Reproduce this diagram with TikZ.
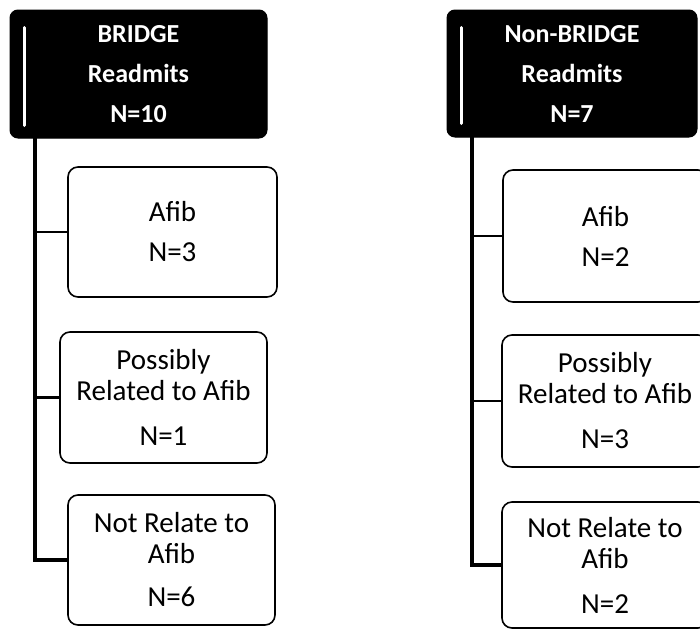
\documentclass[tikz,border=0pt]{standalone}
\usepackage{fontspec}
\setmainfont{Carlito}

\begin{document}
\begin{tikzpicture}[x=1pt,y=-1pt,
		header/.style={draw=black,fill=black,text=white,rounded corners=8pt,line width=1pt,
			inner sep=0pt,align=center,font=\bfseries\fontsize{26}{40}\selectfont},
		item/.style={draw=black,fill=white,rounded corners=10pt,line width=1.6pt,
			inner sep=0pt,align=center,font=\fontsize{29}{31}\selectfont},
		trunk/.style={line width=3.5pt},
		branch/.style={line width=2.2pt}]
		\clip (0,0) rectangle (700,629);
		% BRIDGE side
		\node [header,minimum width=257pt,minimum height=128pt] (hdrL) at (138.5,74) {BRIDGE\\Readmits\\N=10};
		\node [item,minimum width=209pt,minimum height=130pt] (afibL) at (172.5,232) {Afib\\[9pt]N=3};
		\node [item,minimum width=207pt,minimum height=131pt] (possL) at (163.5,397.5) {Possibly\\Related to Afib\\[14pt]N=1};
		\node [item,minimum width=207pt,minimum height=130pt] (notL) at (171.5,560) {Not Relate to\\Afib\\[12pt]N=6};
		\coordinate (topL) at (35,138);
		\draw[white,line width=3pt,line cap=round] ([xshift=15pt,yshift=-18pt]hdrL.north west) -- ([xshift=15pt,yshift=13pt]hdrL.south west);
		\draw[trunk] (topL) |- (notL.west);
		\draw[branch] (topL |- afibL.west) -- (afibL.west);
		\draw[branch] (topL |- possL.west) -- (possL.west);
		% Non-BRIDGE side
		\node [header,minimum width=250pt,minimum height=127pt] (hdrR) at (572,73.5) {Non-BRIDGE\\Readmits\\N=7};
		\node [item,minimum width=205pt,minimum height=132pt] (afibR) at (605.5,236) {Afib\\[9pt]N=2};
		\node [item,minimum width=206pt,minimum height=132pt] (possR) at (605,401) {Possibly\\Related to Afib\\[14pt]N=3};
		\node [item,minimum width=206pt,minimum height=126pt] (notR) at (605,565) {Not Relate to\\Afib\\[14pt]N=2};
		\coordinate (topR) at (472,137);
		\draw[white,line width=3pt,line cap=round] ([xshift=15pt,yshift=-18pt]hdrR.north west) -- ([xshift=15pt,yshift=14pt]hdrR.south west);
		\draw[trunk] (topR) |- (notR.west);
		\draw[branch] (topR |- afibR.west) -- (afibR.west);
		\draw[branch] (topR |- possR.west) -- (possR.west);
	\end{tikzpicture}
\end{document}
